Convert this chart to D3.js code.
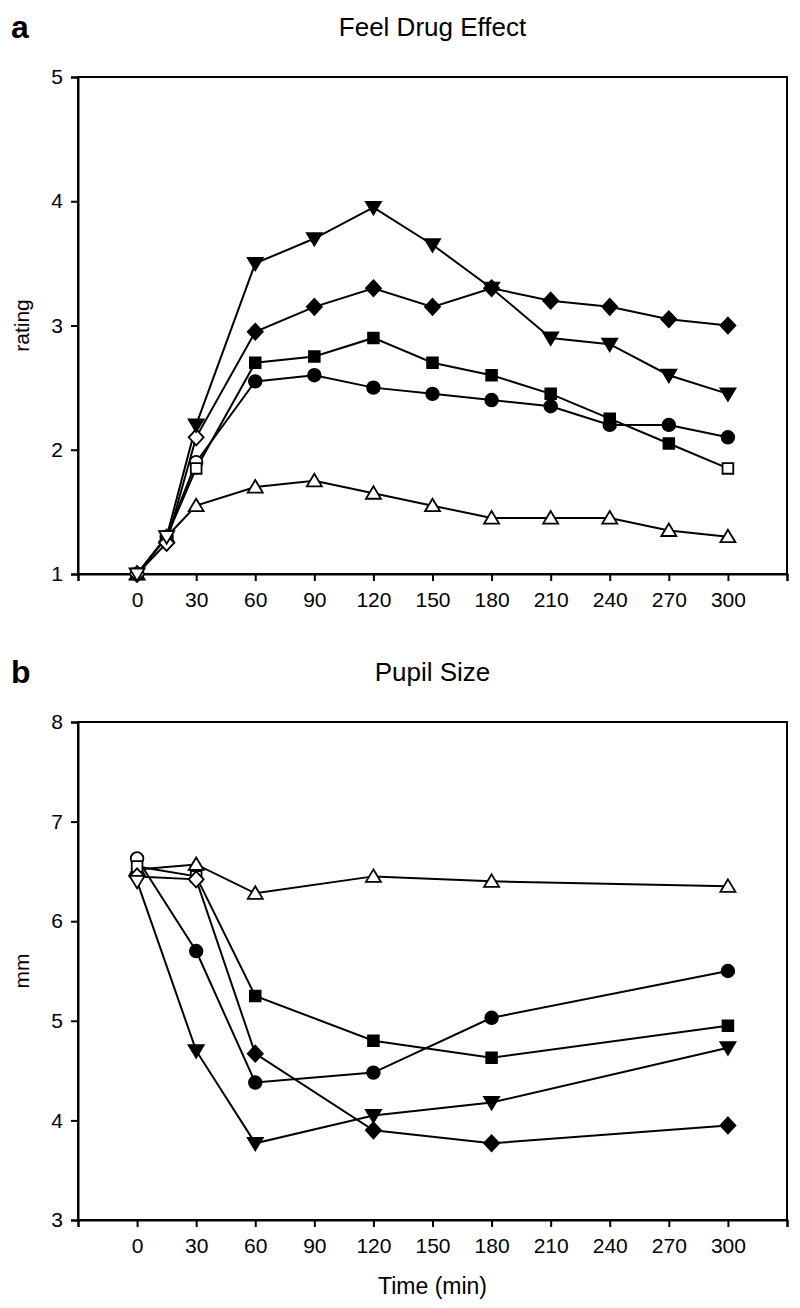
<!DOCTYPE html>
<html>
<head>
<meta charset="utf-8">
<script src="https://cdn.jsdelivr.net/npm/d3@7"></script>
<style>
html,body{margin:0;padding:0;background:#fff;}
svg{display:block;}
text{font-family:"Liberation Sans",Arial,sans-serif;fill:#000;}
</style>
</head>
<body>
<svg id="chart" width="800" height="1308"></svg>
<script>
// ---------- DATA ----------
const timesA = [0, 15, 30, 60, 90, 120, 150, 180, 210, 240, 270, 300];
const feelTriDown = [1.0, 1.3, 2.2, 3.5, 3.7, 3.95, 3.65, 3.3, 2.9, 2.85, 2.6, 2.45];
const feelDiamond = [1.0, 1.25, 2.1, 2.95, 3.15, 3.3, 3.15, 3.3, 3.2, 3.15, 3.05, 3.0];
const feelSquare  = [1.0, 1.3, 1.85, 2.7, 2.75, 2.9, 2.7, 2.6, 2.45, 2.25, 2.05, 1.85];
const feelCircle  = [1.0, 1.3, 1.9, 2.55, 2.6, 2.5, 2.45, 2.4, 2.35, 2.2, 2.2, 2.1];
const feelTriUp   = [1.0, 1.3, 1.55, 1.7, 1.75, 1.65, 1.55, 1.45, 1.45, 1.45, 1.35, 1.3];
const feelTriDownFilled = [0,0,1,1,1,1,1,1,1,1,1,1];
const feelDiamondFilled = [0,0,0,1,1,1,1,1,1,1,1,1];
const feelSquareFilled  = [0,0,0,1,1,1,1,1,1,1,1,0];
const feelCircleFilled  = [0,0,0,1,1,1,1,1,1,1,1,1];
const feelTriUpFilled   = [0,0,0,0,0,0,0,0,0,0,0,0];

const timesB = [0, 30, 60, 120, 180, 300];
const pupilTriUp   = [6.52, 6.57, 6.28, 6.45, 6.4, 6.35];
const pupilCircle  = [6.63, 5.7, 4.38, 4.48, 5.03, 5.5];
const pupilSquare  = [6.55, 6.45, 5.25, 4.8, 4.63, 4.95];
const pupilDiamond = [6.45, 6.42, 4.67, 3.9, 3.77, 3.95];
const pupilTriDown = [6.4, 4.7, 3.77, 4.05, 4.18, 4.73];
const pupilTriUpFilled   = [0,0,0,0,0,0];
const pupilCircleFilled  = [0,1,1,1,1,1];
const pupilSquareFilled  = [0,0,1,1,1,1];
const pupilDiamondFilled = [0,0,1,1,1,1];
const pupilTriDownFilled = [0,1,1,1,1,1];

const xTicks = [-30, 0, 30, 60, 90, 120, 150, 180, 210, 240, 270, 300, 330];
const xTickLabels = ["", "0", "30", "60", "90", "120", "150", "180", "210", "240", "270", "300", ""];
const yTicksA = [1, 2, 3, 4, 5];
const yTicksB = [3, 4, 5, 6, 7, 8];

// ---------- DRAW ----------
const svg = d3.select("#chart");
const X0 = 78, X1 = 787;

function markerPath(type) {
  switch (type) {
    case "circle": return d3.symbol().type(d3.symbolCircle).size(125)();
    case "square": return d3.symbol().type(d3.symbolSquare).size(115)();
    case "diamond": return "M0,-8L7.5,0L0,8L-7.5,0Z";
    case "triUp": return "M0,-7L7.5,5.5L-7.5,5.5Z";
    case "triDown": return "M0,7L7.5,-5.5L-7.5,-5.5Z";
  }
}

function panel(opts) {
  const g = svg.append("g");
  const x = d3.scaleLinear().domain([-30, 330]).range([X0, X1]);
  const y = d3.scaleLinear().domain(opts.yDomain).range([opts.bottom, opts.top]);

  g.append("rect").attr("x", X0).attr("y", opts.top)
    .attr("width", X1 - X0).attr("height", opts.bottom - opts.top)
    .attr("fill", "none").attr("stroke", "#000").attr("stroke-width", 2);

  const xAxis = d3.axisBottom(x).tickValues(xTicks)
    .tickFormat((d, i) => xTickLabels[i]).tickSize(7).tickPadding(11);
  const xg = g.append("g").attr("transform", `translate(0,${opts.bottom})`).call(xAxis);
  xg.select(".domain").attr("stroke-width", 2);
  xg.selectAll(".tick line").attr("stroke-width", 2);
  xg.selectAll("text").style("font-size", "21px");

  const yAxis = d3.axisLeft(y).tickValues(opts.yTicks).tickFormat(d3.format("d"))
    .tickSize(7).tickPadding(8);
  const yg = g.append("g").attr("transform", `translate(${X0},0)`).call(yAxis);
  yg.select(".domain").attr("stroke-width", 2);
  yg.selectAll(".tick line").attr("stroke-width", 2);
  yg.selectAll("text").style("font-size", "21px");

  g.append("text").attr("x", 11).attr("y", opts.top - 47)
    .attr("dominant-baseline", "middle")
    .style("font-size", "32px").style("font-weight", "bold").text(opts.letter);
  g.append("text").attr("x", (X0 + X1) / 2).attr("y", opts.top - 48)
    .attr("text-anchor", "middle").attr("dominant-baseline", "middle")
    .style("font-size", "26px").text(opts.title);
  g.append("text")
    .attr("transform", `translate(23,${(opts.top + opts.bottom) / 2}) rotate(-90)`)
    .attr("text-anchor", "middle").attr("dominant-baseline", "middle")
    .style("font-size", "21px").text(opts.yLabel);
  if (opts.xLabel) {
    g.append("text").attr("x", (X0 + X1) / 2).attr("y", opts.bottom + 68)
      .attr("text-anchor", "middle").attr("dominant-baseline", "middle")
      .style("font-size", "23px").text(opts.xLabel);
  }

  const line = d3.line().x(d => x(d.t)).y(d => y(d.v));
  opts.series.forEach(s => {
    const pts = opts.times.map((t, i) => ({ t, v: s.values[i], f: s.filled[i] }));
    g.append("path").datum(pts).attr("d", line)
      .attr("fill", "none").attr("stroke", "#000").attr("stroke-width", 2);
  });
  opts.series.forEach(s => {
    const pts = opts.times.map((t, i) => ({ t, v: s.values[i], f: s.filled[i] }));
    g.selectAll(null).data(pts).enter().append("path")
      .attr("transform", d => `translate(${x(d.t)},${y(d.v)})`)
      .attr("d", markerPath(s.type))
      .attr("fill", d => d.f ? "#000" : "#fff")
      .attr("stroke", "#000").attr("stroke-width", 1.8);
  });
}

panel({
  top: 77, bottom: 574, yDomain: [1, 5], yTicks: yTicksA,
  letter: "a", title: "Feel Drug Effect", yLabel: "rating",
  times: timesA,
  series: [
    { type: "triUp", values: feelTriUp, filled: feelTriUpFilled },
    { type: "circle", values: feelCircle, filled: feelCircleFilled },
    { type: "square", values: feelSquare, filled: feelSquareFilled },
    { type: "diamond", values: feelDiamond, filled: feelDiamondFilled },
    { type: "triDown", values: feelTriDown, filled: feelTriDownFilled }
  ]
});

panel({
  top: 722, bottom: 1220, yDomain: [3, 8], yTicks: yTicksB,
  letter: "b", title: "Pupil Size", yLabel: "mm", xLabel: "Time (min)",
  times: timesB,
  series: [
    { type: "triUp", values: pupilTriUp, filled: pupilTriUpFilled },
    { type: "circle", values: pupilCircle, filled: pupilCircleFilled },
    { type: "square", values: pupilSquare, filled: pupilSquareFilled },
    { type: "diamond", values: pupilDiamond, filled: pupilDiamondFilled },
    { type: "triDown", values: pupilTriDown, filled: pupilTriDownFilled }
  ]
});
</script>
</body>
</html>
